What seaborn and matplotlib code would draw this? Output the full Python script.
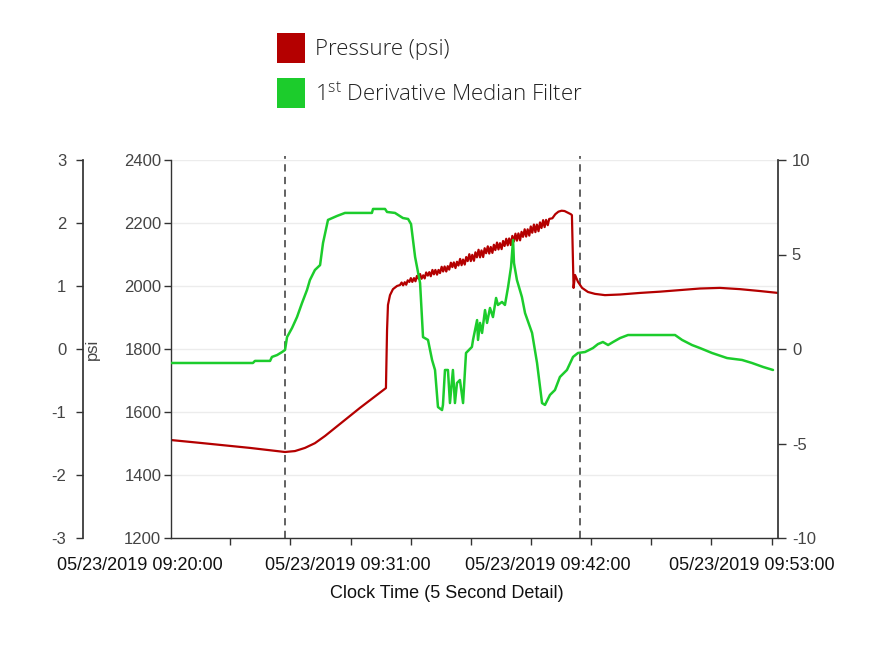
import numpy as np
import pandas as pd
import matplotlib
matplotlib.use("Agg")
import matplotlib.pyplot as plt
from matplotlib.patches import Patch
import seaborn as sns

# ---------------- data (minutes after 05/23/2019 09:20:00) ----------------
ramp_time = [0.0, 1.57, 4.28, 6.18, 6.72, 7.26, 7.80, 8.35, 9.16, 10.24, 11.65,
             11.71, 11.76, 11.87, 12.03, 12.25, 12.41]
ramp_psi = [1511, 1502, 1486, 1473, 1476, 1486, 1501, 1524, 1562, 1613, 1676,
            1860, 1940, 1971, 1990, 2000, 2003]

noisy_time = [12.50, 12.58, 12.67, 12.75, 12.83, 12.92, 13.00, 13.08, 13.17, 13.25,
              13.33, 13.42, 13.50, 13.58, 13.67, 13.75, 13.83, 13.92, 14.00, 14.08,
              14.17, 14.25, 14.33, 14.42, 14.50, 14.58, 14.67, 14.75, 14.83, 14.92,
              15.00, 15.08, 15.17, 15.25, 15.33, 15.42, 15.50, 15.58, 15.67, 15.75,
              15.83, 15.92, 16.00, 16.08, 16.17, 16.25, 16.33, 16.42, 16.50, 16.58,
              16.67, 16.75, 16.83, 16.92, 17.00, 17.08, 17.17, 17.25, 17.33, 17.42,
              17.50, 17.58, 17.67, 17.75, 17.83, 17.92, 18.00, 18.08, 18.17, 18.25,
              18.33, 18.42, 18.50, 18.58, 18.67, 18.75, 18.83, 18.92, 19.00, 19.08,
              19.17, 19.25, 19.33, 19.42, 19.50, 19.58, 19.67, 19.75, 19.83, 19.92,
              20.00, 20.08, 20.17, 20.25, 20.33, 20.42, 20.50]
noisy_psi = [2011, 2002, 2012, 2004, 2018, 2013, 2025, 2013, 2025, 2015,
             2032, 2023, 2038, 2023, 2034, 2024, 2043, 2033, 2044, 2031,
             2051, 2037, 2051, 2036, 2051, 2041, 2061, 2046, 2062, 2046,
             2063, 2052, 2074, 2060, 2075, 2057, 2077, 2065, 2086, 2066,
             2084, 2068, 2092, 2079, 2101, 2079, 2099, 2080, 2107, 2091,
             2115, 2091, 2113, 2092, 2120, 2104, 2126, 2103, 2124, 2105,
             2131, 2114, 2138, 2116, 2136, 2117, 2143, 2127, 2150, 2129,
             2151, 2130, 2159, 2141, 2166, 2144, 2167, 2145, 2172, 2156,
             2180, 2157, 2180, 2160, 2189, 2169, 2195, 2171, 2195, 2174,
             2202, 2184, 2209, 2187, 2210, 2193, 2213]

falloff_time = [20.67, 20.83, 21.00, 21.17, 21.33, 21.50, 21.67, 21.73, 21.82, 21.90,
                22.06, 22.28, 22.60, 22.98, 23.52, 24.34, 25.42, 26.50, 27.59, 28.67,
                29.75, 30.84, 31.92, 32.90]
falloff_psi = [2215, 2228, 2236, 2239, 2238, 2233, 2228, 2225, 1994, 2035,
               2013, 1994, 1981, 1975, 1971, 1973, 1978, 1982, 1987, 1992,
               1994, 1990, 1984, 1978]

deriv_time = [0.0, 4.44, 4.55, 5.37, 5.47, 5.75, 6.02, 6.18, 6.29, 6.56, 6.83, 7.10,
              7.37, 7.53, 7.80, 8.08, 8.24, 8.51, 9.00, 9.43, 10.89, 10.95, 11.60,
              11.71, 12.14, 12.57, 12.85, 13.01, 13.23, 13.50, 13.66, 13.93, 14.15,
              14.31, 14.47, 14.69, 14.74, 14.85, 15.01, 15.12, 15.28, 15.39, 15.50,
              15.66, 15.83, 15.99, 16.31, 16.37, 16.59, 16.64, 16.75, 16.86, 17.02,
              17.13, 17.29, 17.45, 17.62, 17.72, 17.94, 18.10, 18.27, 18.43, 18.54,
              18.59, 18.75, 19.02, 19.19, 19.57, 19.84, 20.11, 20.27, 20.54, 20.81,
              21.08, 21.46, 21.79, 22.06, 22.44, 22.87, 23.14, 23.41, 23.69, 23.96,
              24.34, 24.77, 27.32, 27.70, 28.24, 28.67, 29.32, 30.14, 30.95, 31.49,
              32.09, 32.63]
deriv_value = [-0.74, -0.74, -0.63, -0.63, -0.42, -0.32, -0.16, -0.05, 0.63, 1.11, 1.69, 2.43,
               3.12, 3.65, 4.18, 4.44, 5.61, 6.83, 7.04, 7.20, 7.20, 7.41, 7.41,
               7.25, 7.20, 6.93, 6.88, 6.61, 4.87, 3.49, 0.63, 0.48, -0.58,
               -1.11, -3.07, -3.23, -2.96, -1.11, -1.11, -2.86, -1.11, -2.86, -1.80,
               -1.64, -2.86, -0.21, 0.11, 0.48, 1.53, 0.48, 1.38, 0.85, 2.06,
               1.38, 2.17, 1.69, 2.70, 2.33, 2.49, 2.33, 3.28, 4.34, 5.77,
               4.55, 3.65, 2.75, 1.90, 0.85, -0.74, -2.86, -2.96, -2.43, -2.17,
               -1.48, -1.11, -0.42, -0.21, -0.16, 0.05, 0.26, 0.37, 0.21, 0.37,
               0.58, 0.74, 0.74, 0.48, 0.21, 0.05, -0.21, -0.48, -0.58, -0.74,
               -0.95, -1.11]

event_times = [6.18, 22.17]
date_labels = ["05/23/2019 09:20:00", "05/23/2019 09:31:00",
               "05/23/2019 09:42:00", "05/23/2019 09:53:00"]
date_label_pos = [-1.68, 9.59, 20.43, 31.49]

psi_ticks = [1200, 1400, 1600, 1800, 2000, 2200, 2400]
outer_ticks = [-3, -2, -1, 0, 1, 2, 3]
right_ticks = [-10, -5, 0, 5, 10]

series_names = ["Pressure (psi)", r"1$^{\mathrm{st}}$ Derivative Median Filter"]
RED = "#b40000"
GREEN = "#1ccc2c"

pressure = pd.DataFrame({
    "time": ramp_time + noisy_time + falloff_time,
    "psi": ramp_psi + noisy_psi + falloff_psi,
})
deriv = pd.DataFrame({"time": deriv_time, "value": deriv_value})

# ---------------- style ----------------
sns.set_theme(style="white")
plt.rcParams["font.family"] = ["Liberation Sans", "DejaVu Sans"]
plt.rcParams["mathtext.fontset"] = "custom"
plt.rcParams["mathtext.rm"] = "Open Sans:light"
plt.rcParams["axes.unicode_minus"] = False

fig = plt.figure(figsize=(8.74, 6.46), dpi=100)
ax = fig.add_axes([171 / 874, 1 - 538 / 646, 607 / 874, 378 / 646])

TICKC = "#444444"
SPINEC = "#333333"
TICKSIZE = 12

sns.lineplot(data=pressure, x="time", y="psi", ax=ax, color=RED, lw=1.6,
             estimator=None, sort=False)
ax.set_xlim(0, 32.9)
ax.set_ylim(1200, 2400)
ax.set_yticks(psi_ticks)
ax.grid(axis="y", color="#ececec", lw=1)
ax.grid(axis="x", visible=False)
ax.set_xticks(np.arange(11) * 3.26 - 0.05)
ax.set_xticklabels([])
ax.tick_params(axis="x", length=5, width=1, color=SPINEC, direction="out", bottom=True)
ax.tick_params(axis="y", length=5, width=1, color=SPINEC, labelcolor=TICKC,
               labelsize=TICKSIZE, direction="out", left=True, pad=2)
for s in ["top", "right"]:
    ax.spines[s].set_visible(False)
for s in ["left", "bottom"]:
    ax.spines[s].set_color(SPINEC)
    ax.spines[s].set_linewidth(1)
ax.set_ylabel("psi", color=TICKC, fontsize=12)
ax.yaxis.set_label_coords((100 - 171) / 607, 0.5)
ax.set_xlabel("Clock Time (5 Second Detail)", fontsize=13, color="#111111")
ax.xaxis.label.set_va("center")
ax.xaxis.set_label_coords((447 - 171) / 607, (538 - 593) / 378)

for pos, lab in zip(date_label_pos, date_labels):
    ax.text(pos, (538 - 566) / 378, lab, transform=ax.get_xaxis_transform(),
            ha="center", va="center", fontsize=13, color="#111111", clip_on=False)

for t in event_times:
    ax.axvline(t, ymin=0, ymax=1.01, color="#555555", lw=1.3,
               ls=(0, (4, 3)), clip_on=False, zorder=1)

# outer left axis
ax_o = ax.twinx()
ax_o.set_ylim(-3, 3)
ax_o.set_yticks(outer_ticks)
ax_o.yaxis.set_ticks_position("left")
ax_o.yaxis.set_label_position("left")
ax_o.spines["left"].set_position(("axes", (83 - 171) / 607))
ax_o.spines["left"].set_visible(True)
ax_o.spines["left"].set_color(SPINEC)
for s in ["top", "right", "bottom"]:
    ax_o.spines[s].set_visible(False)
ax_o.tick_params(axis="y", length=5, width=1, color=SPINEC, labelcolor=TICKC,
                 labelsize=TICKSIZE, pad=7)
ax_o.grid(False)

# right axis with derivative
ax_r = ax.twinx()
sns.lineplot(data=deriv, x="time", y="value", ax=ax_r, color=GREEN, lw=1.8,
             estimator=None, sort=False)
ax_r.set_ylim(-10, 10)
ax_r.set_yticks(right_ticks)
ax_r.set_ylabel("")
ax_r.set_xlim(0, 32.9)
ax_r.grid(False)
for s in ["top", "left", "bottom"]:
    ax_r.spines[s].set_visible(False)
ax_r.spines["right"].set_color(SPINEC)
ax_r.tick_params(axis="y", length=6, width=1, color=SPINEC, labelcolor=TICKC,
                 labelsize=TICKSIZE, right=True, pad=4)

# legend
handles = [Patch(facecolor=RED, edgecolor="none"), Patch(facecolor=GREEN, edgecolor="none")]
fig.legend(handles, series_names, loc="upper left",
           bbox_to_anchor=(277 / 874, 1 - 33 / 646), frameon=False,
           prop={"family": "Open Sans", "size": 16, "weight": "light"},
           handlelength=1.27, handleheight=1.70, handletextpad=0.45,
           labelspacing=0.68, borderpad=0, borderaxespad=0, labelcolor="#222222")

fig.savefig("out.png", dpi=100)
